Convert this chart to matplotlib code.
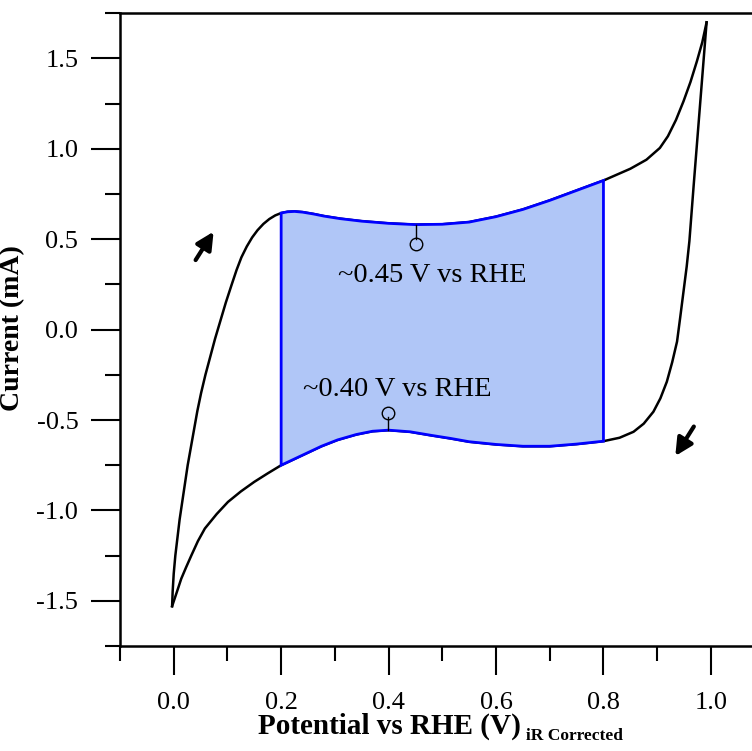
import numpy as np
import matplotlib
matplotlib.use('Agg')
import matplotlib.pyplot as plt
from matplotlib.ticker import MultipleLocator, FormatStrFormatter

plt.rcParams['font.family'] = ['Liberation Serif', 'DejaVu Serif']

# anodic scan (0 V -> 1 V)
fwd_v = [-0.003, -0.002, 0.000, 0.003, 0.007, 0.011, 0.016, 0.021, 0.026, 0.032,
         0.038, 0.044, 0.051, 0.059, 0.068, 0.077, 0.087, 0.097, 0.108, 0.117,
         0.126, 0.136, 0.146, 0.156, 0.167, 0.178, 0.189, 0.200, 0.212, 0.225,
         0.240, 0.260, 0.280, 0.310, 0.350, 0.400, 0.450, 0.500, 0.550, 0.600,
         0.650, 0.700, 0.750, 0.800, 0.850, 0.880, 0.905, 0.920, 0.935, 0.949,
         0.962, 0.974, 0.984, 0.992]
fwd_i = [-1.53, -1.45, -1.35, -1.25, -1.15, -1.05, -0.95, -0.85, -0.75, -0.65,
         -0.55, -0.45, -0.35, -0.25, -0.15, -0.05, 0.05, 0.15, 0.25, 0.33,
         0.40, 0.46, 0.51, 0.55, 0.585, 0.612, 0.632, 0.645, 0.652, 0.654,
         0.650, 0.640, 0.628, 0.614, 0.600, 0.588, 0.581, 0.583, 0.595, 0.625,
         0.665, 0.715, 0.770, 0.825, 0.890, 0.940, 1.005, 1.070, 1.160, 1.263,
         1.370, 1.485, 1.590, 1.700]

# cathodic scan (1 V -> 0 V)
rev_v = [0.992, 0.984, 0.976, 0.968, 0.960, 0.955, 0.949, 0.943, 0.937, 0.928,
         0.918, 0.906, 0.893, 0.875, 0.856, 0.830, 0.800, 0.750, 0.700, 0.650,
         0.600, 0.550, 0.516, 0.480, 0.440, 0.400, 0.370, 0.340, 0.305, 0.275,
         0.250, 0.225, 0.200, 0.175, 0.150, 0.125, 0.101, 0.080, 0.058, 0.045,
         0.033, 0.023, 0.014, 0.006, -0.003]
rev_i = [1.70, 1.40, 1.10, 0.80, 0.49, 0.35, 0.21, 0.07, -0.066, -0.18,
         -0.288, -0.38, -0.454, -0.52, -0.565, -0.598, -0.617, -0.633, -0.645, -0.645,
         -0.635, -0.62, -0.602, -0.585, -0.565, -0.556, -0.562, -0.58, -0.61, -0.645,
         -0.68, -0.715, -0.75, -0.795, -0.842, -0.895, -0.953, -1.02, -1.10, -1.17,
         -1.248, -1.315, -1.378, -1.45, -1.53]

# double layer window and peak markers
win_lo, win_hi = 0.2, 0.8
peak_up = (0.451, 0.581, 0.476)    # x, curve current, marker current
peak_dn = (0.398, -0.556, -0.46)

fig = plt.figure(figsize=(7.52, 7.51), dpi=100)
ax = fig.add_axes([120 / 752, 105 / 751, 644.6 / 752, 632.7 / 751])

ax.plot(fwd_v, fwd_i, color='black', lw=1.8, zorder=2, solid_joinstyle='round')
ax.plot(rev_v, rev_i, color='black', lw=1.8, zorder=2, solid_joinstyle='round')

# shaded region between 0.2 and 0.8 V
fv = np.array(fwd_v); fi = np.array(fwd_i)
rv = np.array(rev_v); ri = np.array(rev_i)
m1 = (fv >= win_lo) & (fv <= win_hi)
m2 = (rv >= win_lo) & (rv <= win_hi)
poly_x = np.concatenate([fv[m1], rv[m2]])
poly_y = np.concatenate([fi[m1], ri[m2]])
ax.fill(poly_x, poly_y, facecolor='#b0c6f7', edgecolor='#0000ff', lw=2, zorder=3)

# peak pins
for px, cy, my in [peak_up, peak_dn]:
    ax.plot([px, px], [cy, my + (0.025 if my < cy else -0.025)], color='black', lw=1, zorder=4)
    ax.plot(px, my, 'o', mfc='none', mec='black', ms=9, mew=1, zorder=4)

ax.text(0.482, 0.30, '~0.45 V vs RHE', fontsize=20.5, ha='center', va='center', zorder=5)
ax.text(0.417, -0.33, '~0.40 V vs RHE', fontsize=20.5, ha='center', va='center', zorder=5)

# scan direction arrows
arr = dict(arrowstyle='-|>', color='black', lw=3, mutation_scale=26)
ax.annotate('', xy=(0.077, 0.555), xytext=(0.038, 0.372), arrowprops=arr)
ax.annotate('', xy=(0.931, -0.712), xytext=(0.971, -0.523), arrowprops=arr)

ax.set_xlim(-0.1, 1.1)
ax.set_ylim(-1.75, 1.75)
ax.xaxis.set_major_locator(MultipleLocator(0.2))
ax.xaxis.set_minor_locator(MultipleLocator(0.1))
ax.yaxis.set_major_locator(MultipleLocator(0.5))
ax.yaxis.set_minor_locator(MultipleLocator(0.25))
ax.xaxis.set_major_formatter(FormatStrFormatter('%.1f'))
ax.yaxis.set_major_formatter(FormatStrFormatter('%.1f'))
ax.tick_params(which='major', direction='out', length=21, width=1.5, labelsize=19, pad=12)
ax.tick_params(which='minor', direction='out', length=11, width=1.5)
ax.tick_params(axis='y', pad=9)
ax.tick_params(top=False, right=False, which='both')
for s in ['left', 'bottom', 'top']:
    ax.spines[s].set_linewidth(1.8)
ax.spines['right'].set_visible(False)

ax.set_ylabel('Current (mA)', fontsize=20, fontweight='bold')
ax.yaxis.set_label_coords(-0.147, 0.503)

lab = fig.text(258 / 752, 1 - 726 / 751, 'Potential vs RHE (V)', fontsize=21,
               fontweight='bold', ha='left', va='center')
ax.annotate('iR Corrected', xy=(1, 0), xycoords=lab, xytext=(4, -3),
            textcoords='offset points', fontsize=12.5, fontweight='bold',
            ha='left', va='bottom', annotation_clip=False)

fig.savefig('out.png', dpi=100)
